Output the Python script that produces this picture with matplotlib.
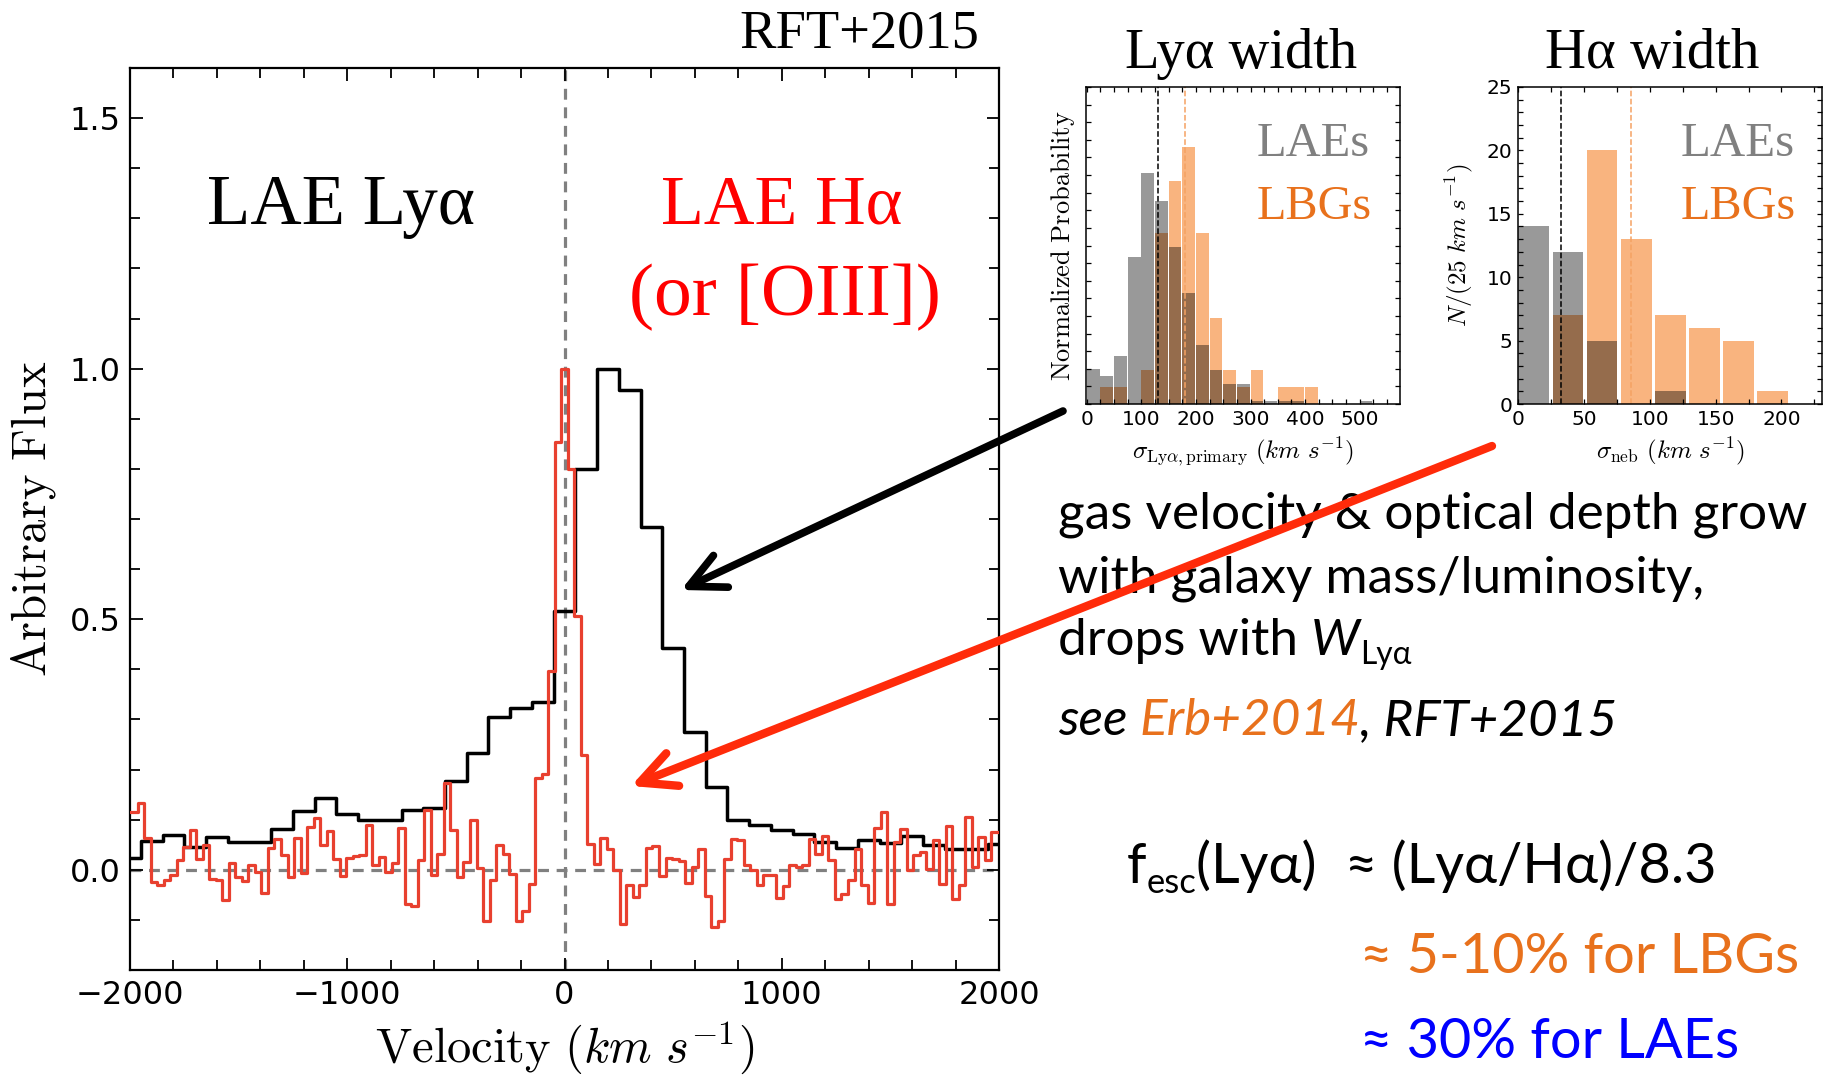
import numpy as np
import matplotlib
matplotlib.use('Agg')
import matplotlib.pyplot as plt
from matplotlib.ticker import MultipleLocator

# размер картинки в пикселях
W, H = 1831, 1081

# --- спектры (Lyα и Hα) ---
black_v = np.arange(-2000, 2001, 100)
black_flux = [0.023, 0.057, 0.069, 0.045, 0.065, 0.055, 0.055, 0.082, 0.117, 0.143,
              0.112, 0.100, 0.100, 0.119, 0.123, 0.177, 0.234, 0.305, 0.323, 0.335,
              0.517, 0.800, 1.000, 0.957, 0.685, 0.443, 0.275, 0.165, 0.099, 0.090,
              0.080, 0.072, 0.055, 0.043, 0.059, 0.054, 0.067, 0.050, 0.042, 0.042,
              0.052]

red_v = np.arange(-2010, 2011, 30)
red_flux = [0.115, 0.115, 0.133, 0.063, -0.025, -0.030, -0.021, -0.010, 0.019, 0.045,
            0.079, 0.022, 0.050, -0.019, -0.021, -0.061, 0.014, -0.015, -0.023, 0.010,
            -0.005, -0.046, 0.043, 0.062, 0.029, -0.015, 0.063, -0.007, 0.085, 0.103,
            0.050, 0.077, 0.022, -0.013, 0.023, 0.027, 0.030, 0.089, 0.010, 0.025,
            -0.005, 0.014, 0.083, -0.068, -0.073, 0.019, 0.119, -0.011, 0.031, 0.174,
            0.080, -0.015, 0.015, 0.099, 0.003, -0.103, -0.021, 0.050, 0.032, -0.008,
            -0.103, -0.083, -0.028, 0.183, 0.191, 0.396, 0.853, 1.000, 0.800, 0.507,
            0.230, 0.052, 0.012, 0.063, 0.041, -0.001, -0.108, -0.030, -0.055, -0.030,
            0.043, 0.047, -0.013, 0.023, 0.022, 0.017, -0.026, 0.005, 0.041, -0.053,
            -0.115, -0.103, 0.022, 0.061, 0.060, 0.009, -0.001, -0.030, -0.010, -0.011,
            -0.057, -0.033, 0.009, 0.005, 0.010, 0.061, 0.032, 0.067, 0.019, -0.058,
            -0.048, -0.021, 0.041, -0.031, -0.066, 0.083, 0.115, -0.068, 0.055, 0.082,
            -0.001, 0.029, 0.035, 0.002, 0.059, -0.028, 0.087, -0.058, -0.031, 0.105,
            0.005, 0.065, 0.019, 0.075, 0.075]

# --- гистограмма ширины Lyα ---
lya_bins = np.arange(0, 525, 25)
lae_lya = [2.0, 1.57, 2.74, 8.34, 13.1, 11.5, 8.9, 6.33, 3.37, 1.95, 1.15,
           1.15, 0.15, 0.15, 0.15, 0.15, 0, 0, 0, 0, 0.15]
lbg_lya = [0, 0.97, 0.97, 0, 1.95, 9.73, 12.65, 14.6, 9.73, 4.86, 1.95,
           0.97, 1.95, 0, 0.97, 0.97, 0.97, 0, 0, 0, 0]
lae_med_lya, lbg_med_lya = 131, 180

# --- гистограмма ширины Hα ---
ha_bins = [0.3, 26.2, 52.1, 78.0, 103.9, 129.8, 155.7, 181.6]
lae_ha = [14, 12, 5, 0, 1, 0, 0, 0]
lbg_ha = [0, 7, 20, 13, 7, 6, 5, 1]
lae_med_ha, lbg_med_ha = 33, 86

RED = '#e8402f'
ORANGE = '#f56b00'
ORANGE_TXT = '#e8711c'
GRAY = '#808080'
SERIF = ['Liberation Serif', 'DejaVu Serif']
SANS = ['Lato', 'DejaVu Sans']

plt.rcParams['mathtext.fontset'] = 'cm'

fig = plt.figure(figsize=(W / 100, H / 100), dpi=100)


def rect(x0, y0, x1, y1):
    """Прямоугольник осей из пикселей (отсчет сверху)"""
    return [x0 / W, 1 - y1 / H, (x1 - x0) / W, (y1 - y0) / H]


# Основной график
ax = fig.add_axes(rect(130, 68, 999, 970))
ax.axhline(0, color=GRAY, lw=2.3, ls=(0, (3.4, 2.4)), zorder=1)
ax.axvline(0, color=GRAY, lw=2.3, ls=(0, (3.4, 2.4)), zorder=1)
ax.step(black_v, black_flux, where='mid', color='black', lw=2.5, zorder=2)
ax.step(red_v, red_flux, where='mid', color=RED, lw=2.3, zorder=3)
ax.set_xlim(-2000, 2000)
ax.set_ylim(-0.2, 1.6)
ax.set_xticks([-2000, -1000, 0, 1000, 2000])
ax.set_yticks([0.0, 0.5, 1.0, 1.5])
ax.xaxis.set_minor_locator(MultipleLocator(200))
ax.yaxis.set_minor_locator(MultipleLocator(0.1))
ax.tick_params(which='both', direction='in', top=True, right=True, width=1.3,
               labelsize=23)
ax.tick_params(which='major', length=9, pad=7)
ax.tick_params(which='minor', length=7)
for s in ax.spines.values():
    s.set_linewidth(1.6)
ax.set_ylabel(r'$\mathrm{Arbitrary\ Flux}$', fontsize=35)
ax.yaxis.set_label_coords(-0.083, 0.5)
ax.set_xlabel(r'$\mathrm{Velocity}\ (km\ s^{-1})$', fontsize=35)
ax.xaxis.set_label_coords(0.5, -0.054)


def inset(r, bins, width, lae, lbg, lae_med, lbg_med):
    a = fig.add_axes(r)
    a.bar(bins, lbg, width=width, align='edge', color=ORANGE, alpha=0.5, lw=0)
    a.bar(bins, lae, width=width, align='edge', color='black', alpha=0.4, lw=0)
    a.axvline(lae_med, color='black', ls='--', lw=1.1)
    a.axvline(lbg_med, color='#f5a263', ls='--', lw=1.1)
    a.tick_params(which='both', direction='in', top=True, right=True, length=3.5,
                  width=0.9, labelsize=14.5, pad=4)
    for s in a.spines.values():
        s.set_linewidth(1.1)
    return a


ax1 = inset(rect(1086, 87, 1400, 404), lya_bins, 23.4, lae_lya, lbg_lya,
            lae_med_lya, lbg_med_lya)
ax1.set_xlim(-1.5, 574)
ax1.set_ylim(0, 18)
ax1.set_xticks([0, 100, 200, 300, 400, 500])
ax1.xaxis.set_minor_locator(MultipleLocator(25))
ax1.set_yticks(range(19))
ax1.tick_params(labelleft=False)
ax1.set_ylabel(r'$\mathrm{Normalized\ Probability}$', fontsize=19)
ax1.yaxis.set_label_coords(-0.03, 0.5)
ax1.set_xlabel(r'$\sigma_{\mathrm{Ly}\alpha,\mathrm{primary}}\ (km\ s^{-1})$', fontsize=18)
ax1.xaxis.set_label_coords(0.5, -0.10)

ax2 = inset(rect(1518, 87, 1822, 404), ha_bins, 23.4, lae_ha, lbg_ha,
            lae_med_ha, lbg_med_ha)
ax2.set_xlim(0, 230.8)
ax2.set_ylim(0, 25)
ax2.set_xticks([0, 50, 100, 150, 200])
ax2.xaxis.set_minor_locator(MultipleLocator(25))
ax2.set_yticks([0, 5, 10, 15, 20, 25])
ax2.yaxis.set_minor_locator(MultipleLocator(1))
ax2.set_ylabel(r'$N/(25\ km\ s^{-1})$', fontsize=18)
ax2.yaxis.set_label_coords(-0.14, 0.5)
ax2.set_xlabel(r'$\sigma_{\mathrm{neb}}\ (km\ s^{-1})$', fontsize=18)
ax2.xaxis.set_label_coords(0.5, -0.10)

# Прозрачный слой для надписей и стрелок (координаты в пикселях сверху)
bg = fig.add_axes([0, 0, 1, 1], zorder=5)
bg.set_axis_off()
bg.set_xlim(0, W)
bg.set_ylim(H, 0)


def put(x, y, s, size, **kw):
    kw.setdefault('va', 'baseline')
    return bg.text(x, y, s, fontsize=size, **kw)


def fit(t, width):
    """Подгоняем размер шрифта под ширину в пикселях"""
    w = t.get_window_extent(fig.canvas.get_renderer()).width
    t.set_fontsize(t.get_fontsize() * width / w)


serif_texts = [
    (put(979, 47, 'RFT+2015', 38, ha='right', family=SERIF), 240),
    (put(1241, 68, 'Lyα width', 40, ha='center', family=SERIF), 232),
    (put(1652, 68, 'Hα width', 40, ha='center', family=SERIF), 214),
    (put(341, 224, 'LAE Lyα', 52, ha='center', family=SERIF), 268),
    (put(782, 224, 'LAE Hα', 52, ha='center', family=SERIF, color='red'), 242),
    (put(785, 315, '(or [OIII])', 52, ha='center', family=SERIF, color='red'), 312),
    (put(1257, 156, 'LAEs', 36, family=SERIF, color=GRAY), 113),
    (put(1257, 219, 'LBGs', 36, family=SERIF, color=ORANGE_TXT), 115),
    (put(1681, 156, 'LAEs', 36, family=SERIF, color=GRAY), 114),
    (put(1681, 219, 'LBGs', 36, family=SERIF, color=ORANGE_TXT), 115),
]

# Текстовый блок справа
t1 = put(1058, 528, 'gas velocity & optical depth grow', 34, family=SANS)
t2 = put(1058, 592, 'with galaxy mass/luminosity,', 34, family=SANS)
t3 = put(1058, 655, 'drops with ', 34, family=SANS)
t3w = bg.annotate('W', xy=(1, 0), xycoords=t3, va='bottom', fontsize=34,
                  family=SANS, style='italic')
t3s = bg.annotate('Lyα', xy=(1, 0), xycoords=(t3w, t3), va='baseline',
                  fontsize=21, family=SANS)
t4 = put(1058, 735, 'see ', 34, family=SANS, style='italic')
t4b = bg.annotate('Erb+2014', xy=(1, 0), xycoords=t4, va='bottom', fontsize=34,
                  family=SANS, style='italic', color=ORANGE_TXT)
t4c = bg.annotate(', RFT+2015', xy=(1, 0), xycoords=t4b, va='bottom', fontsize=34,
                  family=SANS, style='italic')

tf = put(1127, 883, 'f', 40, family=SANS)
tesc = bg.annotate('esc', xy=(1, 0), xycoords=tf, va='baseline', fontsize=25,
                   family=SANS)
trest = bg.annotate('(Lyα)  ≈ (Lyα/Hα)/8.3', xy=(1, 0), xycoords=(tesc, tf),
                    va='bottom', fontsize=40, family=SANS)
tl = put(1360, 973, '≈ 5-10% for LBGs', 40, family=SANS, color=ORANGE_TXT)
tb = put(1360, 1058, '≈ 30% for LAEs', 40, family=SANS, color='#0000ff')

fig.canvas.draw()
for t, w in serif_texts:
    fit(t, w)

fit(t1, 751)
s1 = t1.get_fontsize()
for t in (t2, t3, t3w, t4, t4b, t4c):
    t.set_fontsize(s1)
t3s.set_fontsize(s1 * 0.62)

fit(tl, 440)
s2 = tl.get_fontsize()
for t in (tf, trest, tb):
    t.set_fontsize(s2)
tesc.set_fontsize(s2 * 0.62)

# Стрелки
bg.annotate('', xy=(681, 590), xytext=(1063, 411),
            arrowprops=dict(arrowstyle='->,head_length=0.85,head_width=0.42',
                            lw=5.5, color='black', shrinkA=0, shrinkB=0,
                            mutation_scale=30))
bg.annotate('', xy=(631, 786), xytext=(1492, 446),
            arrowprops=dict(arrowstyle='->,head_length=0.85,head_width=0.42',
                            lw=6, color='#ff2b0a', shrinkA=0, shrinkB=0,
                            mutation_scale=30))

fig.savefig('out.png', dpi=100)
